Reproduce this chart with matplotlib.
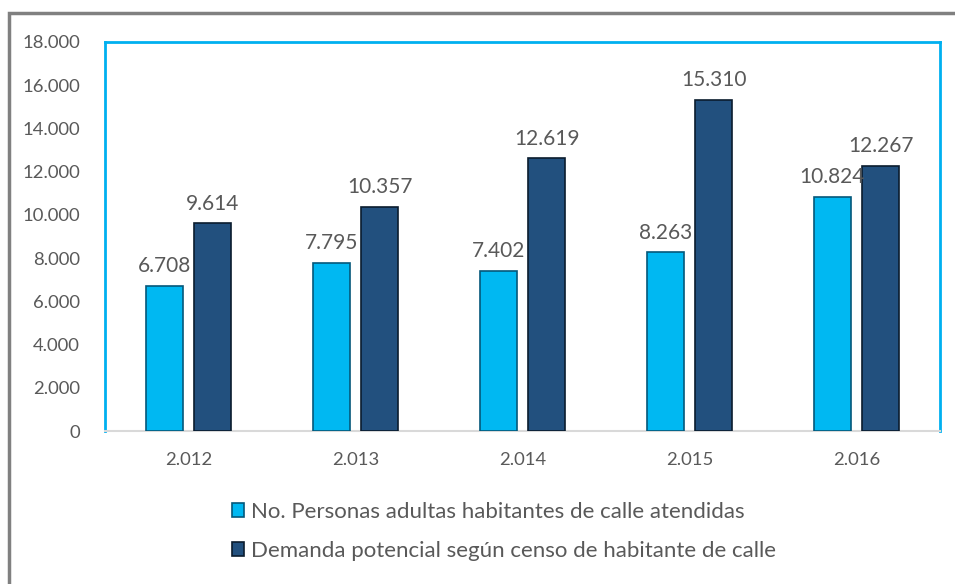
import numpy as np
import matplotlib.pyplot as plt
from matplotlib.patches import Rectangle

years = ['2.012', '2.013', '2.014', '2.015', '2.016']
atendidas = [6708, 7795, 7402, 8263, 10824]
demanda = [9614, 10357, 12619, 15310, 12267]
series_names = ['No. Personas adultas habitantes de calle atendidas',
                'Demanda potencial según censo de habitante de calle']

plt.rcParams['font.family'] = ['Lato', 'DejaVu Sans']

def fmt(v):
    return f'{v:,}'.replace(',', '.')

fig = plt.figure(figsize=(9.55, 5.84), dpi=100)
ax = fig.add_axes([105/955, 1-431/584, 835/955, 389/584])

x = np.arange(len(years))
w = 0.22
off = 0.144
b1 = ax.bar(x - off, atendidas, w, color='#00B8F2', edgecolor='#04587A', linewidth=1.2,
            label=series_names[0], zorder=3)
b2 = ax.bar(x + off, demanda, w, color='#22507E', edgecolor='#0B1C2E', linewidth=1.2,
            label=series_names[1], zorder=3)

for rects, vals in [(b1, atendidas), (b2, demanda)]:
    for r, v in zip(rects, vals):
        ax.text(r.get_x() + r.get_width()/2, v + 450, fmt(v), ha='center', va='bottom',
                fontsize=15, color='#595959')

ax.set_xlim(-0.5, len(years) - 0.5)
ax.set_ylim(0, 18000)
ax.set_yticks(np.arange(0, 18001, 2000))
ax.set_yticklabels([fmt(v) for v in range(0, 18001, 2000)])
ax.set_xticks(x)
ax.set_xticklabels(years)
ax.tick_params(axis='both', length=0, labelsize=13.3, labelcolor='#595959')
ax.tick_params(axis='y', pad=18)
ax.tick_params(axis='x', pad=15)

for side in ['left', 'top', 'right']:
    ax.spines[side].set_color('#00B0F0')
    ax.spines[side].set_linewidth(2)
ax.spines['bottom'].set_color('#D9D9D9')
ax.spines['bottom'].set_linewidth(1.5)

leg = fig.legend(handles=[b1, b2], loc='upper left', bbox_to_anchor=(212/955, 1-482/584),
                 ncol=1, frameon=False, fontsize=16, handlelength=0.55, handleheight=0.55,
                 handletextpad=0.3, labelspacing=0.85, labelcolor='#595959')

fig.patches.append(Rectangle((9/955, -0.1), 1.2, 1 - 13/584 + 0.1, transform=fig.transFigure,
                             fill=False, edgecolor='#808080', linewidth=2.5, zorder=0))

fig.savefig('out.png', dpi=100)
